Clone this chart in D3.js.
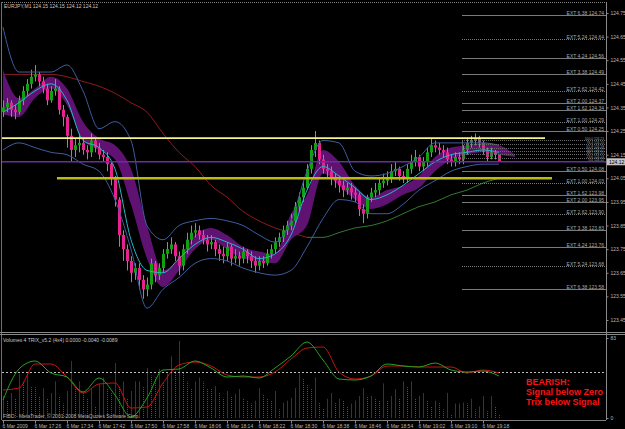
<!DOCTYPE html>
<html>
<head>
<meta charset="utf-8">
<script src="https://cdn.jsdelivr.net/npm/d3@7"></script>
<style>
body { margin: 0; background: #000; }
svg { display: block; }
text { font-family: "Liberation Sans", Arial, sans-serif; }
</style>
</head>
<body>
<div id="chart"></div>
<script>
//header texts
var headerText = "EURJPY,M1  124.15 124.15 124.12 124.12";
var subHeaderText = "Volumes 4    TRIX_v5.2 (4x4)  0.0000 -0.0040 -0.0089";
var footerText = "FIBO - MetaTrader, \u00a9 2001-2008 MetaQuotes Software Corp.";
var bearishLines = ["BEARISH:", "Signal below Zero", "Trix below Signal"];

// one-minute bars, 17:18 .. 19:22
var opens = [124.33, 124.35, 124.37, 124.34, 124.33, 124.38, 124.42, 124.45, 124.48, 124.49,
    124.46, 124.43, 124.38, 124.42, 124.43, 124.34, 124.31, 124.23, 124.17, 124.19,
    124.20, 124.17, 124.16, 124.21, 124.18, 124.15, 124.14, 124.11, 124.05, 123.96,
    123.81, 123.75, 123.70, 123.65, 123.67, 123.62, 123.58, 123.60, 123.69, 123.64,
    123.67, 123.73, 123.75, 123.77, 123.72, 123.68, 123.75, 123.79, 123.82, 123.83,
    123.81, 123.79, 123.77, 123.78, 123.75, 123.73, 123.72, 123.76, 123.71, 123.72,
    123.71, 123.74, 123.72, 123.70, 123.68, 123.70, 123.69, 123.73, 123.75, 123.78,
    123.80, 123.83, 123.85, 123.87, 123.93, 123.97, 124.01, 124.09, 124.17, 124.20,
    124.13, 124.09, 124.08, 124.05, 124.04, 124.02, 124.00, 124.01, 123.99, 123.98,
    123.92, 123.90, 123.97, 123.99, 124.00, 124.03, 124.04, 124.05, 124.08, 124.09,
    124.06, 124.05, 124.09, 124.12, 124.14, 124.10, 124.12, 124.16, 124.19, 124.18,
    124.17, 124.16, 124.13, 124.12, 124.14, 124.13, 124.17, 124.20, 124.21, 124.22,
    124.20, 124.17, 124.14, 124.16, 124.15];
var highs = [124.38, 124.39, 124.38, 124.36, 124.40, 124.44, 124.47, 124.51, 124.53, 124.50,
    124.48, 124.45, 124.44, 124.47, 124.44, 124.36, 124.32, 124.26, 124.22, 124.24,
    124.22, 124.19, 124.24, 124.22, 124.20, 124.17, 124.16, 124.12, 124.06, 123.97,
    123.83, 123.77, 123.72, 123.69, 123.69, 123.64, 123.63, 123.71, 123.70, 123.69,
    123.75, 123.78, 123.80, 123.78, 123.74, 123.77, 123.82, 123.85, 123.86, 123.85,
    123.83, 123.81, 123.81, 123.79, 123.77, 123.76, 123.78, 123.77, 123.75, 123.74,
    123.76, 123.75, 123.74, 123.72, 123.72, 123.72, 123.75, 123.77, 123.80, 123.82,
    123.85, 123.87, 123.90, 123.95, 123.99, 124.04, 124.11, 124.19, 124.25, 124.21,
    124.15, 124.11, 124.10, 124.07, 124.06, 124.04, 124.03, 124.03, 124.01, 123.99,
    123.94, 123.98, 124.01, 124.03, 124.05, 124.07, 124.08, 124.11, 124.12, 124.10,
    124.08, 124.11, 124.15, 124.17, 124.15, 124.14, 124.18, 124.22, 124.21, 124.20,
    124.19, 124.18, 124.15, 124.16, 124.16, 124.19, 124.22, 124.23, 124.24, 124.23,
    124.21, 124.18, 124.18, 124.17, 124.15];
var lows = [124.31, 124.33, 124.31, 124.30, 124.32, 124.36, 124.40, 124.43, 124.46, 124.44,
    124.41, 124.36, 124.37, 124.40, 124.32, 124.27, 124.18, 124.12, 124.14, 124.16,
    124.15, 124.13, 124.14, 124.16, 124.13, 124.12, 124.08, 124.02, 123.93, 123.76,
    123.70, 123.66, 123.61, 123.62, 123.58, 123.54, 123.55, 123.58, 123.61, 123.62,
    123.65, 123.71, 123.73, 123.70, 123.64, 123.66, 123.73, 123.77, 123.80, 123.79,
    123.77, 123.74, 123.75, 123.72, 123.70, 123.69, 123.70, 123.68, 123.69, 123.68,
    123.69, 123.69, 123.67, 123.65, 123.66, 123.67, 123.68, 123.71, 123.73, 123.76,
    123.78, 123.81, 123.83, 123.86, 123.91, 123.95, 124.00, 124.07, 124.14, 124.11,
    124.07, 124.05, 124.02, 124.01, 123.99, 123.97, 123.98, 123.96, 123.95, 123.89,
    123.86, 123.88, 123.95, 123.97, 123.98, 124.01, 124.02, 124.03, 124.06, 124.04,
    124.03, 124.03, 124.07, 124.10, 124.08, 124.08, 124.10, 124.14, 124.16, 124.15,
    124.14, 124.11, 124.10, 124.10, 124.11, 124.11, 124.15, 124.18, 124.19, 124.18,
    124.15, 124.12, 124.13, 124.13, 124.12];
var closes = [124.35, 124.37, 124.34, 124.33, 124.38, 124.42, 124.45, 124.48, 124.49, 124.46,
    124.43, 124.38, 124.42, 124.43, 124.34, 124.31, 124.23, 124.17, 124.19, 124.20,
    124.17, 124.16, 124.21, 124.18, 124.15, 124.14, 124.11, 124.05, 123.96, 123.81,
    123.75, 123.70, 123.65, 123.67, 123.62, 123.58, 123.60, 123.69, 123.64, 123.67,
    123.73, 123.75, 123.77, 123.72, 123.68, 123.75, 123.79, 123.82, 123.83, 123.81,
    123.79, 123.77, 123.78, 123.75, 123.73, 123.72, 123.76, 123.71, 123.72, 123.71,
    123.74, 123.72, 123.70, 123.68, 123.70, 123.69, 123.73, 123.75, 123.78, 123.80,
    123.83, 123.85, 123.87, 123.93, 123.97, 124.01, 124.09, 124.17, 124.20, 124.13,
    124.09, 124.08, 124.05, 124.04, 124.02, 124.00, 124.01, 123.99, 123.98, 123.92,
    123.90, 123.97, 123.99, 124.00, 124.03, 124.04, 124.05, 124.08, 124.09, 124.06,
    124.05, 124.09, 124.12, 124.14, 124.10, 124.12, 124.16, 124.19, 124.18, 124.17,
    124.16, 124.13, 124.12, 124.14, 124.13, 124.17, 124.20, 124.21, 124.22, 124.20,
    124.17, 124.14, 124.16, 124.15, 124.12];
var volumes = [23, 18, 26, 20, 46, 38, 46, 33, 32, 23,
    31, 20, 26, 38, 23, 15, 28, 59, 31, 38,
    26, 21, 30, 12, 35, 42, 31, 26, 57, 33,
    38, 20, 28, 38, 38, 33, 52, 44, 42, 51,
    36, 46, 64, 49, 80, 47, 38, 31, 38, 42,
    38, 31, 30, 33, 26, 21, 28, 23, 25, 30,
    21, 18, 15, 18, 31, 25, 20, 18, 28, 9,
    16, 18, 21, 31, 46, 41, 35, 30, 42, 16,
    10, 20, 26, 16, 20, 18, 12, 15, 18, 23,
    31, 23, 23, 21, 18, 36, 18, 23, 30, 20,
    38, 33, 38, 20, 23, 26, 18, 12, 18, 16,
    9, 26, 4, 15, 15, 16, 15, 20, 9, 12,
    23, 7, 23, 12, 3];

// indicator readings, one every 4 bars (bar 0, 4, 8 ...)
var bbUpper = [124.69, 124.50, 124.50, 124.50, 124.53, 124.42, 124.26, 124.29, 124.21, 123.85,
    123.79, 123.85, 123.87, 123.88, 123.87, 123.85, 123.81, 123.78, 123.87, 124.08,
    124.21, 124.20, 124.08, 124.06, 124.07, 124.10, 124.14, 124.20, 124.20, 124.20,
    124.20, 124.19];
var bbLower = [124.17, 124.20, 124.18, 124.16, 124.15, 124.11, 124.08, 123.96, 123.75, 123.50,
    123.58, 123.63, 123.69, 123.71, 123.70, 123.67, 123.65, 123.64, 123.66, 123.76,
    123.88, 123.96, 123.95, 123.90, 123.90, 123.94, 124.00, 124.04, 124.08, 124.10,
    124.11, 124.11];
var fastMA = [124.33, 124.37, 124.42, 124.45, 124.38, 124.21, 124.18, 124.09, 123.79, 123.66,
    123.65, 123.71, 123.77, 123.80, 123.78, 123.75, 123.71, 123.73, 123.81, 124.00,
    124.10, 124.06, 124.01, 123.96, 123.98, 124.02, 124.07, 124.12, 124.15, 124.16,
    124.17, 124.16];
var slowMA = [124.49, 124.49, 124.49, 124.49, 124.48, 124.46, 124.44, 124.41, 124.37, 124.33,
    124.24, 124.16, 124.10, 124.02, 123.97, 123.91, 123.87, 123.84, 123.82, 123.80,
    123.80, 123.82, 123.84, 123.85, 123.87, 123.90, 123.93, 123.95, 123.98, 124.00,
    124.03, 124.05];
// the purple ribbon runs one step further to the right
var ribbonTop = [124.51, 124.39, 124.43, 124.48, 124.43, 124.29, 124.22, 124.19, 124.09, 123.85,
    123.66, 123.71, 123.81, 123.84, 123.81, 123.76, 123.74, 123.73, 123.90, 123.98,
    124.17, 124.12, 124.02, 123.97, 124.00, 124.02, 124.06, 124.14, 124.18, 124.19,
    124.20, 124.19, 124.15];
var ribbonBottom = [124.32, 124.31, 124.39, 124.43, 124.36, 124.21, 124.17, 124.13, 123.94, 123.71,
    123.59, 123.66, 123.75, 123.79, 123.75, 123.71, 123.70, 123.69, 123.79, 123.85,
    124.07, 124.02, 123.96, 123.92, 123.94, 123.98, 124.01, 124.08, 124.13, 124.15,
    124.16, 124.15, 124.14];
var trix = [-0.028, 0.003, 0.011, -0.001, -0.005, -0.020, -0.006, -0.023, -0.045, -0.026,
    0.002, 0.003, 0.011, 0.004, -0.005, -0.004, -0.006, 0.004, 0.016, 0.030,
    0.012, -0.007, -0.008, -0.004, 0.008, 0.006, 0.005, 0.009, 0.002, 0.000,
    0.001, -0.004];
var trixSignal = [-0.018, -0.016, 0.008, 0.008, -0.005, -0.021, -0.012, -0.011, -0.036, -0.035,
    -0.011, 0.007, 0.010, 0.006, -0.003, -0.005, -0.005, 0.000, 0.013, 0.024,
    0.025, 0.000, -0.007, -0.004, 0.006, 0.006, 0.005, 0.005, 0.005, -0.001,
    0.002, -0.001];

// drawn objects
var extLabels = ["EXT 6.38", "EXT 5.24", "EXT 4.24", "EXT 3.38", "EXT 2.62", "EXT 2.00", "EXT 1.62", "EXT 1.00", "EXT 0.50",
    "EXT 0.50", "EXT 1.00", "EXT 1.62", "EXT 2.00", "EXT 2.62", "EXT 3.38", "EXT 4.24", "EXT 5.24", "EXT 6.38"];
var extPrices = [124.74, 124.64, 124.56, 124.49, 124.42, 124.37, 124.34, 124.29, 124.25,
    124.08, 124.03, 123.98, 123.95, 123.90, 123.83, 123.76, 123.68, 123.58];
var fiboLabels = ["100.0", "76.4", "61.8", "50.0", "38.2", "23.6", "0.0"];
var fiboPrices = [124.213, 124.196, 124.179, 124.166, 124.154, 124.137, 124.124];
var resistancePrice = 124.22, supportPrice = 124.05, bidPrice = 124.12;

var priceTicks = [124.75, 124.65, 124.55, 124.45, 124.35, 124.25, 124.15, 124.05, 123.95, 123.85, 123.75, 123.65, 123.55, 123.45];
var volumeTicks = [83, 0];
var timeLabels = ["6 Mar 2009", "6 Mar 17:26", "6 Mar 17:34", "6 Mar 17:42", "6 Mar 17:50", "6 Mar 17:58",
    "6 Mar 18:06", "6 Mar 18:14", "6 Mar 18:22", "6 Mar 18:30", "6 Mar 18:38", "6 Mar 18:46",
    "6 Mar 18:54", "6 Mar 19:02", "6 Mar 19:10", "6 Mar 19:18"];

//layout
var W = 625, H = 429,
    left = 2, right = 606,
    mainTop = 2, mainBottom = 333,
    subTop = 335, subBottom = 420;

var x = d3.scaleLinear().domain([0, 124]).range([3, 499]);
var y = d3.scaleLinear().domain([123.45, 124.75]).range([320, 13]);
var yVol = d3.scaleLinear().domain([0, 83]).range([418, 338]);
var yTrix = d3.scaleLinear().domain([-0.046, 0.046]).range([418, 326]);

var bars = closes.map(function(c, i) {
    return { i: i, o: opens[i], h: highs[i], l: lows[i], c: c, v: volumes[i] };
});
var samples = function(arr) { return arr.map(function(v, k) { return { i: k * 4, v: v }; }); };

var svg = d3.select("#chart").append("svg")
    .attr("width", W)
    .attr("height", H)
    .style("background", "#000");

var defs = svg.append("defs");
defs.append("clipPath").attr("id", "clipMain").append("rect")
    .attr("x", left).attr("y", mainTop).attr("width", right - left).attr("height", mainBottom - mainTop);
defs.append("clipPath").attr("id", "clipSub").append("rect")
    .attr("x", left).attr("y", subTop + 1).attr("width", right - left).attr("height", subBottom - subTop - 1);

var main = svg.append("g").attr("clip-path", "url(#clipMain)");
var sub = svg.append("g").attr("clip-path", "url(#clipSub)");

function smallText(g, tx, ty, str, fill) {
    return g.append("text").attr("x", tx).attr("y", ty)
        .attr("font-size", "5px").attr("fill", fill || "#c8c8c8").text(str);
}

function drawFrame() {
    svg.append("line").attr("x1", left).attr("x2", right).attr("y1", mainTop + 0.5).attr("y2", mainTop + 0.5)
        .attr("stroke", "#808080").attr("stroke-dasharray", "1,1");
    svg.append("line").attr("x1", left - 0.5).attr("x2", left - 0.5).attr("y1", mainTop).attr("y2", subBottom)
        .attr("stroke", "#707070");
    [mainBottom - 0.5, subTop - 0.5].forEach(function(yy) {
        svg.append("line").attr("x1", 0).attr("x2", W).attr("y1", yy).attr("y2", yy).attr("stroke", "#8a8a8a");
    });
    svg.append("line").attr("x1", left).attr("x2", right).attr("y1", subBottom + 0.5).attr("y2", subBottom + 0.5)
        .attr("stroke", "#808080");
}

function drawRibbon() {
    var pts = ribbonTop.map(function(t, k) { return { i: k * 4, hi: t, lo: ribbonBottom[k] }; });
    var area = d3.area()
        .x(d => x(d.i))
        .y0(d => y(d.lo))
        .y1(d => y(d.hi))
        .curve(d3.curveMonotoneX);
    main.append("path").datum(pts).attr("d", area).attr("fill", "#5f1272");
}

function drawSlowMA() {
    var pts = samples(slowMA);
    var k = d3.minIndex(pts, d => d.v);
    var line = d3.line().x(d => x(d.i)).y(d => y(d.v)).curve(d3.curveMonotoneX);
    main.append("path").datum(pts.slice(0, k + 1)).attr("d", line)
        .attr("fill", "none").attr("stroke", "#8e1b1b").attr("stroke-width", 1);
    main.append("path").datum(pts.slice(k)).attr("d", line)
        .attr("fill", "none").attr("stroke", "#2f7a2f").attr("stroke-width", 1);
}

function drawCandles() {
    var g = main.append("g");
    g.selectAll(".wick").data(bars).enter().append("line")
        .attr("x1", d => x(d.i) + 0.5).attr("x2", d => x(d.i) + 0.5)
        .attr("y1", d => y(d.h)).attr("y2", d => y(d.l))
        .attr("stroke", "#8c8c8c").attr("stroke-width", 1);
    g.selectAll(".body").data(bars).enter().append("rect")
        .attr("x", d => x(d.i) - 1)
        .attr("width", 3)
        .attr("y", d => y(Math.max(d.o, d.c)))
        .attr("height", d => Math.max(1, Math.abs(y(d.o) - y(d.c))))
        .attr("fill", d => d.c >= d.o ? "#12a012" : "#e62290");
}

function drawBands() {
    var line = d3.line().x(d => x(d.i)).y(d => y(d.v)).curve(d3.curveMonotoneX);
    [bbUpper, bbLower].forEach(function(arr) {
        main.append("path").datum(samples(arr)).attr("d", line)
            .attr("fill", "none").attr("stroke", "#3d5c9e").attr("stroke-width", 1);
    });
    main.append("path").datum(samples(fastMA)).attr("d", line)
        .attr("fill", "none").attr("stroke", "#22b8c0").attr("stroke-width", 1);
}

function drawObjects() {
    // fibo expansion levels on the right
    var x0 = 462;
    extPrices.forEach(function(p, k) {
        var yy = Math.round(y(p)) + 0.5;
        main.append("line").attr("x1", x0).attr("x2", right).attr("y1", yy).attr("y2", yy)
            .attr("stroke", "#7a7a7a").attr("stroke-width", 1)
            .attr("stroke-dasharray", (k % 3 === 1) ? "1,1" : null);
        smallText(main, right - 2, yy - 0.8, extLabels[k] + "  " + p.toFixed(2), "#a8a8a8")
            .attr("text-anchor", "end");
    });
    fiboPrices.forEach(function(p, k) {
        var yy = Math.round(y(p)) + 0.5;
        main.append("line").attr("x1", x0).attr("x2", right).attr("y1", yy).attr("y2", yy)
            .attr("stroke", "#6a6a6a").attr("stroke-dasharray", "1,1");
        smallText(main, right - 2, yy - 0.3, fiboLabels[k] + "  " + p.toFixed(2), "#a0a0a0")
            .attr("text-anchor", "end").attr("font-size", "3.3px");
    });
    main.append("line").attr("x1", x0 + 0.5).attr("x2", x0 + 0.5)
        .attr("y1", y(fiboPrices[0])).attr("y2", y(fiboPrices[fiboPrices.length - 1]))
        .attr("stroke", "#6a6a6a");

    // horizontal lines
    main.append("line").attr("x1", left).attr("x2", 545).attr("y1", y(resistancePrice)).attr("y2", y(resistancePrice))
        .attr("stroke", "#f4f48a").attr("stroke-width", 1.6);
    main.append("line").attr("x1", 57).attr("x2", 552).attr("y1", y(supportPrice)).attr("y2", y(supportPrice))
        .attr("stroke", "#bcbc10").attr("stroke-width", 2.4);
    main.append("line").attr("x1", left).attr("x2", right).attr("y1", y(bidPrice)).attr("y2", y(bidPrice))
        .attr("stroke", "#6c2ca0").attr("stroke-width", 1.4);
}

function drawPriceAxis() {
    var ax = svg.append("g").attr("transform", "translate(" + (right + 0.5) + ",0)")
        .call(d3.axisRight(y).tickValues(priceTicks).tickSize(2).tickPadding(2).tickFormat(d3.format(".2f")));
    ax.select(".domain").attr("stroke", "#8a8a8a").attr("d", "M0," + mainTop + "V" + subBottom);
    ax.selectAll(".tick line").attr("stroke", "#8a8a8a");
    ax.selectAll(".tick text").attr("fill", "#b8b8b8").attr("font-size", "5px")
        .attr("font-family", "Liberation Sans, Arial, sans-serif");

    var by = y(bidPrice);
    svg.append("rect").attr("x", right + 1).attr("y", by - 3.5).attr("width", 18).attr("height", 7)
        .attr("fill", "#c4c4c4");
    smallText(svg, right + 3, by + 2, bidPrice.toFixed(2), "#000");

    var vx = svg.append("g").attr("transform", "translate(" + (right + 0.5) + ",0)")
        .call(d3.axisRight(yVol).tickValues(volumeTicks).tickSize(2).tickPadding(2));
    vx.select(".domain").remove();
    vx.selectAll(".tick line").attr("stroke", "#8a8a8a");
    vx.selectAll(".tick text").attr("fill", "#b8b8b8").attr("font-size", "5px")
        .attr("font-family", "Liberation Sans, Arial, sans-serif");
}

function drawTimeAxis() {
    var idx = timeLabels.map((d, k) => k * 8);
    var ax = svg.append("g").attr("transform", "translate(0," + (subBottom + 0.5) + ")")
        .call(d3.axisBottom(x).tickValues(idx).tickSize(3).tickPadding(1).tickFormat((d, k) => timeLabels[k]));
    ax.select(".domain").remove();
    ax.selectAll(".tick line").attr("stroke", "#8a8a8a");
    ax.selectAll(".tick text").attr("fill", "#b8b8b8").attr("font-size", "5px")
        .attr("text-anchor", "start").attr("dx", "-1px")
        .attr("font-family", "Liberation Sans, Arial, sans-serif");
}

function drawVolumes() {
    sub.selectAll(".vol").data(bars).enter().append("line")
        .attr("x1", d => x(d.i) + 0.5).attr("x2", d => x(d.i) + 0.5)
        .attr("y1", yVol(0)).attr("y2", d => yVol(d.v))
        .attr("stroke", (d, i) => (i > 0 && d.v < volumes[i - 1]) ? "#4a4a78" : "#2c2c78")
        .attr("stroke-dasharray", (d, i) => (i > 0 && d.v < volumes[i - 1]) ? "1,1" : null);
}

function drawTrix() {
    var z = Math.round(yTrix(0)) + 0.5;
    sub.append("line").attr("x1", left).attr("x2", right).attr("y1", z).attr("y2", z)
        .attr("stroke", "#bdbdbd").attr("stroke-dasharray", "2,2");
    var line = d3.line().x(d => x(d.i)).y(d => yTrix(d.v)).curve(d3.curveMonotoneX);
    sub.append("path").datum(samples(trixSignal)).attr("d", line)
        .attr("fill", "none").attr("stroke", "#c41414").attr("stroke-width", 1);
    sub.append("path").datum(samples(trix)).attr("d", line)
        .attr("fill", "none").attr("stroke", "#22a022").attr("stroke-width", 1);
}

function drawTexts() {
    smallText(svg, 4, 7.5, headerText);
    smallText(svg, 3, 341.5, subHeaderText);
    smallText(svg, 3, 418, footerText, "#b0b0b0");
    bearishLines.forEach(function(s, k) {
        svg.append("text").attr("x", 526).attr("y", 384.5 + k * 10)
            .attr("font-size", "9px").attr("font-weight", "bold").attr("fill", "#ff1010")
            .text(s);
    });
}

drawFrame();
drawSlowMA();
drawRibbon();
drawCandles();
drawBands();
drawObjects();
drawVolumes();
drawTrix();
drawPriceAxis();
drawTimeAxis();
drawTexts();
</script>
</body>
</html>
